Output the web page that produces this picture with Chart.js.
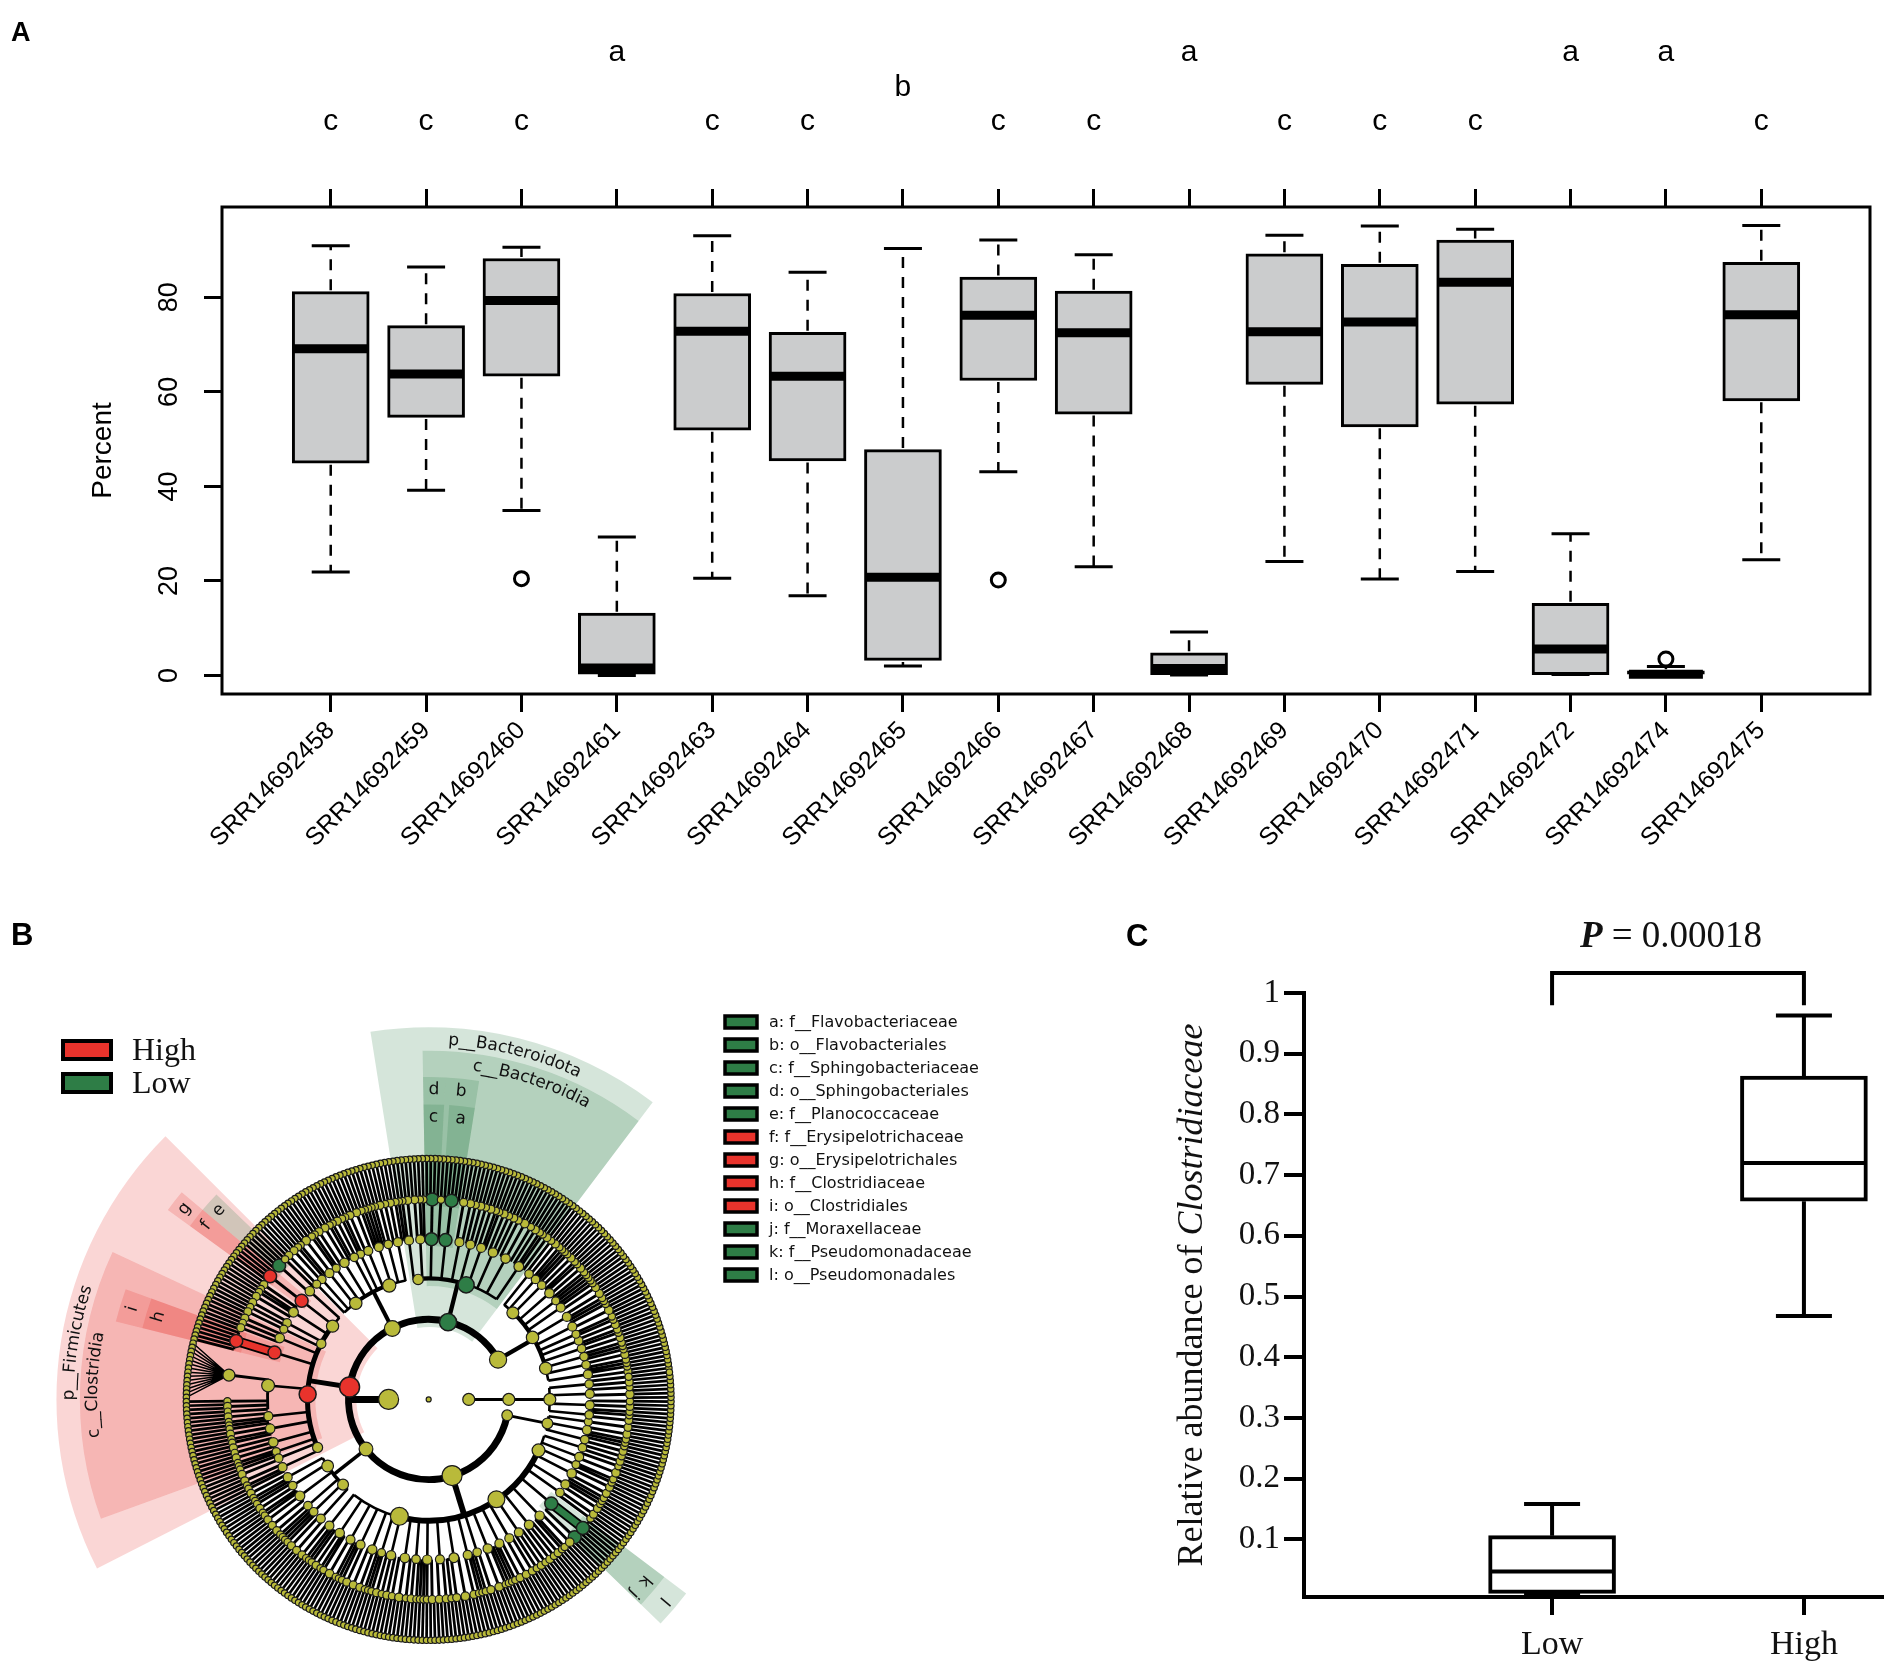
<!DOCTYPE html>
<html>
<head>
<meta charset="utf-8">
<script src="https://cdn.jsdelivr.net/npm/chart.js@4.4.1/dist/chart.umd.min.js"></script>
<style>
  html, body { margin: 0; padding: 0; background: #fff; }
  body { width: 1904px; height: 1679px; position: relative; overflow: hidden; }
  canvas { position: absolute; }
  #chartA { left: 0; top: 0; }
  #chartB { left: 0; top: 880px; }
  #chartC { left: 1100px; top: 900px; }
</style>
</head>
<body>
<canvas id="chartA" width="1904" height="880"></canvas>
<canvas id="chartB" width="1000" height="799"></canvas>
<canvas id="chartC" width="804" height="779"></canvas>
<script>
// ---------- panel A data ----------
const categories = ['SRR14692458', 'SRR14692459', 'SRR14692460', 'SRR14692461', 'SRR14692463', 'SRR14692464',
  'SRR14692465', 'SRR14692466', 'SRR14692467', 'SRR14692468', 'SRR14692469', 'SRR14692470',
  'SRR14692471', 'SRR14692472', 'SRR14692474', 'SRR14692475'];
const whiskerLow  = [21.9, 39.2, 34.9, 0.0, 20.6, 16.9, 2.0, 43.1, 23.0, 0.1, 24.1, 20.4, 22.0, 0.2, 0.0, 24.5];
const q1          = [44.9, 54.6, 63.3, 0.0, 51.9, 45.4, 3.2, 62.4, 55.3, 0.2, 61.6, 52.6, 57.4, 0.2, 0.0, 58.1];
const median      = [69.1, 63.8, 79.3, 1.6, 72.8, 63.3, 20.8, 76.2, 72.5, 1.5, 72.7, 74.8, 83.2, 5.6, 0.3, 76.3];
const q3          = [81.2, 74.0, 88.2, 13.2, 80.8, 72.6, 47.8, 84.3, 81.3, 4.8, 89.2, 87.0, 92.1, 15.3, 1.0, 87.4];
const whiskerHigh = [90.9, 86.4, 90.6, 29.3, 93.0, 85.3, 90.3, 92.1, 89.0, 9.2, 93.1, 95.1, 94.4, 30.0, 1.9, 95.2];
const outlierSample = ['SRR14692460', 'SRR14692466', 'SRR14692474'];
const outlierValue = [20.5, 20.2, 3.5];
const letters = ['c', 'c', 'c', 'a', 'c', 'c', 'b', 'c', 'c', 'a', 'c', 'c', 'c', 'a', 'a', 'c'];
const yTicksA = [0, 20, 40, 60, 80];

// ---------- panel B data ----------
const groupNames = ['High', 'Low'];
const markerKeys = ['a', 'b', 'c', 'd', 'e', 'f', 'g', 'h', 'i', 'j', 'k', 'l'];
const markerTaxa = ['f__Flavobacteriaceae', 'o__Flavobacteriales', 'f__Sphingobacteriaceae', 'o__Sphingobacteriales',
  'f__Planococcaceae', 'f__Erysipelotrichaceae', 'o__Erysipelotrichales', 'f__Clostridiaceae',
  'o__Clostridiales', 'f__Moraxellaceae', 'f__Pseudomonadaceae', 'o__Pseudomonadales'];
const markerGroups = ['Low', 'Low', 'Low', 'Low', 'Low', 'High', 'High', 'High', 'High', 'Low', 'Low', 'Low'];
const cladeNames = ['p__Bacteroidota', 'c__Bacteroidia', 'p__Firmicutes', 'c__Clostridia'];
const cladeGroups = ['Low', 'Low', 'High', 'High'];
const thickLinks = ['h', 'k'];
// tree: phylum -> class -> order -> family (number = genera in that family)
const bacteriaPhyla = [
  [[[2, 1, 1], [1, 2], [1, 1, 1], [2, 1], [1, 2]],
   [[1, 1], [3, 1], [1, 1, 2], [2, 1, 1], [1, 1]],
   [[1, 2, 1, 1], [2, 1], [1, 1, 1], [2, 1]]],
  { id: 'p__Bacteroidota', kids: [
    { id: 'c__Bacteroidia', kids: [[2, 1, 1, 2], [1, 3, 1], [2, 1, 2], [1, 1, 2], [1, 2, 1], [2, 2],
      { id: 'b', kids: [{ id: 'a', n: 5 }, 1] }, { id: 'd', kids: [{ id: 'c', n: 4 }] }] },
    [[1, 1, 2], [2, 1, 1]]
  ] },
  [[[1, 2, 1], [2, 1], [1, 1, 1, 1], [2, 2], [1, 1], [2, 1]],
   [[1, 2, 2], [1, 1], [3, 1], [1, 2], [2]]],
  { id: 'p__Firmicutes', kids: [
    [[1, { id: 'e', n: 4 }], { id: 'g', kids: [{ id: 'f', n: 4 }] }, [2, 1, 1, 2]],
    [[2, 1], [2]],
    { id: 'c__Clostridia', kids: [[2, 1, 2], { id: 'i', kids: [{ id: 'h', n: 6 }] }, [14, 1, 2, 1],
      [2, 1, 1], [1, 2, 1, 1], [2, 1, 2], [1, 1]] },
    [[1, 2], [2, 1, 1]]
  ] },
  [[[2, 1, 1], [1, 2], [1, 1, 2, 2]],
   [[2, 1], [1, 1, 1], [2, 2]]],
  [[[2, 1, 1], [1, 2, 1, 1], [3, 1], [1, 1, 2], [2, 2, 1], [1, 1], [2, 1, 2], [1, 3, 1], [2, 1], [1, 1, 1, 2], [2, 2], [1, 2, 3]],
   [[2, 1, 1], [1, 2], [3, 1, 1], [1, 1, 2], [2, 2], [1, 2, 1], [2, 1, 2], [1, 1, 3],
    { id: 'l', kids: [{ id: 'j', n: 1 }, { id: 'k', n: 6 }] }, [1, 2]],
   [[2, 1, 1], [1, 2, 2], [1, 1], [3, 1], [2, 1]]],
  [[[2, 1], [1, 1, 2], [2]]]
];
const archaeaPhyla = [[[[2, 1], [1, 2, 1], [3, 1], [2, 1]]]];

// ---------- panel C data ----------
const groupsC = ['Low', 'High'];
const cMin = [0.010, 0.468];
const cQ1 = [0.011, 0.657];
const cMed = [0.047, 0.720];
const cQ3 = [0.106, 0.863];
const cMax = [0.158, 0.963];
const yTicksC = [0.1, 0.2, 0.3, 0.4, 0.5, 0.6, 0.7, 0.8, 0.9, 1];
const pValue = '0.00018';

const SANS = 'Liberation Sans, Arial, sans-serif';
const SERIF = 'Liberation Serif, Times New Roman, serif';
const DEJAVU = 'DejaVu Sans, sans-serif';

// ================= PANEL A =================
const letterRowY = { a: 53, b: 88, c: 122 };

const boxPlotA = {
  id: 'boxPlotA',
  afterDatasetsDraw(chart) {
    const { ctx, scales: { x, y } } = chart;
    const half = 38.5;
    ctx.save();
    ctx.strokeStyle = '#000';
    categories.forEach((c, i) => {
      const px = x.getPixelForValue(i + 1);
      const yHi = y.getPixelForValue(whiskerHigh[i]);
      const yLo = y.getPixelForValue(whiskerLow[i]);
      ctx.setLineDash([11, 9]);
      ctx.lineWidth = 2.5;
      ctx.beginPath();
      ctx.moveTo(px, y.getPixelForValue(q3[i]) - 1.5);
      ctx.lineTo(px, yHi);
      ctx.moveTo(px, y.getPixelForValue(q1[i]) + 1.5);
      ctx.lineTo(px, yLo);
      ctx.stroke();
      ctx.setLineDash([]);
      ctx.lineWidth = 3;
      ctx.beginPath();
      ctx.moveTo(px - 19, yHi); ctx.lineTo(px + 19, yHi);
      ctx.moveTo(px - 19, yLo); ctx.lineTo(px + 19, yLo);
      ctx.stroke();
      ctx.lineWidth = 9;
      ctx.beginPath();
      const ym = y.getPixelForValue(median[i]);
      ctx.moveTo(px - half + 1.5, ym); ctx.lineTo(px + half - 1.5, ym);
      ctx.stroke();
    });
    ctx.restore();
  },
  afterDraw(chart) {
    const { ctx, chartArea: a, scales: { x, y } } = chart;
    ctx.save();
    ctx.strokeStyle = '#000';
    ctx.lineWidth = 3;
    ctx.strokeRect(a.left, a.top, a.right - a.left, a.bottom - a.top);
    ctx.fillStyle = '#000';
    ctx.textAlign = 'center';
    ctx.textBaseline = 'middle';
    ctx.font = '30px ' + SANS;
    letters.forEach((l, i) => ctx.fillText(l, x.getPixelForValue(i + 1), letterRowY[l]));
    ctx.font = '27px ' + SANS;
    yTicksA.forEach(v => {
      ctx.save();
      ctx.translate(170, y.getPixelForValue(v));
      ctx.rotate(-Math.PI / 2);
      ctx.fillText(String(v), 0, 0);
      ctx.restore();
    });
    ctx.save();
    ctx.font = '28px ' + SANS;
    ctx.translate(103, (a.top + a.bottom) / 2);
    ctx.rotate(-Math.PI / 2);
    ctx.fillText('Percent', 0, 0);
    ctx.restore();
    ctx.textAlign = 'left';
    ctx.textBaseline = 'alphabetic';
    ctx.font = 'bold 27px ' + SANS;
    ctx.fillText('A', 11, 41);
    ctx.restore();
  }
};

const catTicks = scale => { scale.ticks = categories.map((c, i) => ({ value: i + 1 })); };

new Chart(document.getElementById('chartA'), {
  type: 'bar',
  data: {
    datasets: [{
      type: 'bar',
      data: categories.map((c, i) => ({ x: i + 1, y: [q1[i], q3[i]] })),
      backgroundColor: '#cbcccd',
      borderColor: '#000',
      borderWidth: 3,
      borderSkipped: false,
      barThickness: 77,
      grouped: false
    }, {
      type: 'scatter',
      data: outlierSample.map((s, i) => ({ x: categories.indexOf(s) + 1, y: outlierValue[i] })),
      pointStyle: 'circle',
      pointRadius: 7,
      pointBorderWidth: 3,
      pointBorderColor: '#000',
      pointBackgroundColor: 'rgba(0,0,0,0)'
    }]
  },
  options: {
    responsive: false,
    animation: false,
    devicePixelRatio: 1,
    layout: { padding: { left: 0, right: 34, top: 0, bottom: 0 } },
    plugins: { legend: { display: false }, tooltip: { enabled: false } },
    scales: {
      x: {
        type: 'linear', position: 'bottom', min: -0.14, max: 17.14, offset: false,
        afterBuildTicks: catTicks,
        afterFit: s => { s.height = 186; },
        ticks: {
          autoSkip: false, minRotation: 45, maxRotation: 45, padding: 4, color: '#000',
          font: { family: SANS, size: 25 },
          callback: v => categories[v - 1]
        },
        grid: { offset: false, drawOnChartArea: false, tickLength: 18, color: '#000', lineWidth: 3 },
        border: { display: false }
      },
      xTop: {
        type: 'linear', position: 'top', min: -0.14, max: 17.14, offset: false,
        afterBuildTicks: catTicks,
        afterFit: s => { s.height = 207; },
        ticks: { display: false },
        grid: { offset: false, drawOnChartArea: false, tickLength: 18, color: '#000', lineWidth: 3 },
        border: { display: false }
      },
      y: {
        min: -3.9, max: 99.1,
        afterBuildTicks: s => { s.ticks = yTicksA.map(v => ({ value: v })); },
        afterFit: s => { s.width = 222; },
        ticks: { display: false },
        grid: { drawOnChartArea: false, tickLength: 18, color: '#000', lineWidth: 3 },
        border: { display: false }
      }
    }
  },
  plugins: [boxPlotA]
});

// ================= PANEL B =================
const levelR = [0, 41, 82, 124, 165, 206, 248];
const outerR = { 2: 381, 3: 357, 4: 330, 5: 302 };
const startAngle = 7;
const step = 1;
const groupColor = { High: '#e8332c', Low: '#2e7d46' };
const groupShade = { High: 'rgba(232,51,44,0.2)', Low: 'rgba(46,125,70,0.2)' };

function groupOf(id) {
  if (id == null) return null;
  const m = markerKeys.indexOf(id);
  if (m >= 0) return markerGroups[m];
  const c = cladeNames.indexOf(id);
  return c >= 0 ? cladeGroups[c] : null;
}

const nodes = [];
let leafCount = 0;
function visit(item, level, parent) {
  let id = null, kids = null, n = null;
  if (typeof item === 'number') n = item;
  else if (Array.isArray(item)) kids = item;
  else { id = item.id; kids = item.kids || null; n = item.n != null ? item.n : null; }
  const node = { level, id, parent, children: [] };
  nodes.push(node);
  if (kids) {
    kids.forEach(k => node.children.push(visit(k, level + 1, node)));
  } else {
    for (let g = 0; g < n; g++) {
      const leaf = { level: level + 1, id: null, parent: node, children: [], first: leafCount, last: leafCount, leaves: 1,
        angle: startAngle + (leafCount + 0.5) * step };
      leafCount++;
      nodes.push(leaf);
      node.children.push(leaf);
    }
  }
  node.first = node.children[0].first;
  node.last = node.children[node.children.length - 1].last;
  node.leaves = node.last - node.first + 1;
  node.angle = startAngle + (node.first + node.last + 1) / 2 * step;
  return node;
}
const root = visit([{ id: 'k__Bacteria', kids: bacteriaPhyla }, { id: 'k__Archaea', kids: archaeaPhyla }], 0, null);
root.angle = 0;

const pol = (r, deg) => ({ x: r * Math.cos(deg * Math.PI / 180), y: r * Math.sin(deg * Math.PI / 180) });
const nodeRadius = n => {
  if (n.level === 0) return 2.5;
  if (n.level === 6) return 3.2;
  let r = Math.min(10, 2.8 + 0.85 * Math.sqrt(n.leaves));
  if (groupOf(n.id)) r = Math.max(r, 6.5);
  return r;
};

function nodeSet(filter) {
  const list = nodes.filter(filter).sort((a, b) => b.level - a.level);
  return {
    data: list.map(n => pol(levelR[n.level], n.angle)),
    radius: list.map(nodeRadius)
  };
}
const yellowSet = nodeSet(n => !groupOf(n.id));
const redSet = nodeSet(n => groupOf(n.id) === 'High');
const greenSet = nodeSet(n => groupOf(n.id) === 'Low');

function arcText(ctx, cx, cy, text, r, midDeg) {
  const total = ctx.measureText(text).width;
  let a = midDeg * Math.PI / 180 + total / (2 * r);
  for (const ch of text) {
    const w = ctx.measureText(ch).width;
    const ac = a - w / (2 * r);
    ctx.save();
    ctx.translate(cx + r * Math.cos(ac), cy - r * Math.sin(ac));
    ctx.rotate(Math.PI / 2 - ac);
    ctx.fillText(ch, 0, 0);
    ctx.restore();
    a -= w / r;
  }
}

const cladogram = {
  id: 'cladogram',
  beforeDatasetsDraw(chart) {
    const { ctx, scales: { x, y } } = chart;
    const cx = x.getPixelForValue(0), cy = y.getPixelForValue(0);
    const k = x.getPixelForValue(1) - cx;
    const P = (r, deg) => { const p = pol(r, deg); return [x.getPixelForValue(p.x), y.getPixelForValue(p.y)]; };
    const rad = d => -d * Math.PI / 180;
    ctx.save();
    // highlighted clade sectors
    nodes.filter(n => groupOf(n.id)).sort((a, b) => a.level - b.level).forEach(n => {
      const a0 = startAngle + n.first * step, a1 = startAngle + (n.last + 1) * step;
      const rIn = (levelR[n.level] - 8) * k, rOut = outerR[n.level] * k;
      ctx.fillStyle = groupShade[groupOf(n.id)];
      ctx.beginPath();
      ctx.arc(cx, cy, rOut, rad(a0), rad(a1), true);
      ctx.arc(cx, cy, rIn, rad(a1), rad(a0), false);
      ctx.closePath();
      ctx.fill();
    });
    // tree edges
    ctx.strokeStyle = '#000';
    ctx.lineCap = 'butt';
    const spokeWidth = { 3: 2.6, 4: 2.9, 5: 2.7 };
    nodes.forEach(n => {
      if (n.level < 1 || !n.children.length) return;
      const rp = levelR[n.level], rc = levelR[n.level + 1];
      const f = n.children[0].angle, l = n.children[n.children.length - 1].angle;
      if (n.level >= 4 && n.children.length >= 8) {
        // wide family: fan of branches from the node
        ctx.lineWidth = 1.5;
        const [x0, y0] = P(rp, n.angle);
        ctx.beginPath();
        n.children.forEach(g => { const [x1, y1] = P(rc, g.angle); ctx.moveTo(x0, y0); ctx.lineTo(x1, y1); });
        ctx.stroke();
      } else if (n.level >= 3) {
        // arc on the parent ring, one spoke per child
        ctx.lineWidth = spokeWidth[n.level];
        ctx.beginPath();
        ctx.arc(cx, cy, rp * k, rad(f), rad(l), true);
        ctx.stroke();
        ctx.beginPath();
        n.children.forEach(c => {
          const [x0, y0] = P(rp, c.angle), [x1, y1] = P(rc, c.angle);
          ctx.moveTo(x0, y0); ctx.lineTo(x1, y1);
        });
        ctx.stroke();
      } else {
        // arc on the child ring, one spoke from the parent
        ctx.lineWidth = Math.min(7, 1.6 + 0.4 * Math.sqrt(n.leaves));
        ctx.beginPath();
        ctx.arc(cx, cy, rc * k, rad(f), rad(l), true);
        ctx.stroke();
        const [x0, y0] = P(rp, n.angle), [x1, y1] = P(rc, n.angle);
        ctx.beginPath();
        ctx.moveTo(x0, y0); ctx.lineTo(x1, y1);
        ctx.stroke();
      }
    });
    // thick coloured links between nested biomarkers
    nodes.filter(n => thickLinks.includes(n.id)).forEach(n => {
      const [x0, y0] = P(levelR[n.parent.level], n.parent.angle), [x1, y1] = P(levelR[n.level], n.angle);
      ctx.beginPath(); ctx.moveTo(x0, y0); ctx.lineTo(x1, y1);
      ctx.lineWidth = 10; ctx.strokeStyle = '#000'; ctx.stroke();
      ctx.lineWidth = 6.5; ctx.strokeStyle = groupColor[groupOf(n.id)]; ctx.stroke();
    });
    ctx.restore();
  },
  afterDraw(chart) {
    const { ctx, scales: { x, y } } = chart;
    const cx = x.getPixelForValue(0), cy = y.getPixelForValue(0);
    const k = x.getPixelForValue(1) - cx;
    ctx.save();
    ctx.fillStyle = '#111';
    ctx.textAlign = 'center';
    ctx.textBaseline = 'middle';
    ctx.font = '17px ' + DEJAVU;
    nodes.filter(n => groupOf(n.id)).forEach(n => {
      const rl = (outerR[n.level] - 13) * k;
      if (n.level <= 3) {
        arcText(ctx, cx, cy, n.id, rl, n.angle);
      } else {
        const a = n.angle * Math.PI / 180;
        ctx.save();
        ctx.translate(cx + rl * Math.cos(a), cy - rl * Math.sin(a));
        ctx.rotate(Math.PI / 2 - a);
        ctx.fillText(n.id, 0, 0);
        ctx.restore();
      }
    });
    // High / Low legend
    ctx.textAlign = 'left';
    ctx.textBaseline = 'alphabetic';
    ctx.font = '32px ' + SERIF;
    groupNames.forEach((g, i) => {
      const top = 161 + i * 33;
      ctx.fillStyle = groupColor[g];
      ctx.fillRect(63, top, 48, 18);
      ctx.lineWidth = 4; ctx.strokeStyle = '#000';
      ctx.strokeRect(63, top, 48, 18);
      ctx.fillStyle = '#111';
      ctx.fillText(g, 132, top + 19);
    });
    // biomarker legend
    ctx.font = '16px ' + DEJAVU;
    ctx.textBaseline = 'middle';
    markerKeys.forEach((m, i) => {
      const cyRow = 142 + i * 23;
      ctx.fillStyle = groupColor[markerGroups[i]];
      ctx.fillRect(725, cyRow - 6, 32, 12);
      ctx.lineWidth = 3.5; ctx.strokeStyle = '#000';
      ctx.strokeRect(725, cyRow - 6, 32, 12);
      ctx.fillStyle = '#111';
      ctx.fillText(m + ': ' + markerTaxa[i], 769, cyRow + 1);
    });
    ctx.fillStyle = '#000';
    ctx.textBaseline = 'alphabetic';
    ctx.font = 'bold 31px ' + SANS;
    ctx.fillText('B', 11, 65);
    ctx.restore();
  }
};

const pointSet = (set, color, bw) => ({
  data: set.data,
  pointRadius: set.radius,
  pointBackgroundColor: color,
  pointBorderColor: '#1a1a1a',
  pointBorderWidth: bw,
  pointHoverRadius: set.radius
});

new Chart(document.getElementById('chartB'), {
  type: 'scatter',
  data: {
    datasets: [
      pointSet(yellowSet, '#b9ba3a', 1.2),
      pointSet(redSet, groupColor.High, 1.5),
      pointSet(greenSet, groupColor.Low, 1.5)
    ]
  },
  options: {
    responsive: false,
    animation: false,
    devicePixelRatio: 1,
    layout: { padding: 0 },
    plugins: { legend: { display: false }, tooltip: { enabled: false } },
    scales: {
      x: { type: 'linear', min: -427, max: 573, display: false },
      y: { type: 'linear', min: -276, max: 523, display: false }
    }
  },
  plugins: [cladogram]
});

// ================= PANEL C =================
const boxPlotC = {
  id: 'boxPlotC',
  afterDatasetsDraw(chart) {
    const { ctx, scales: { x, y } } = chart;
    const half = 63.5;
    ctx.save();
    ctx.strokeStyle = '#000';
    ctx.lineWidth = 4;
    groupsC.forEach((g, i) => {
      const px = x.getPixelForValue(i + 1);
      const yHi = y.getPixelForValue(cMax[i]), yLo = y.getPixelForValue(cMin[i]);
      ctx.beginPath();
      ctx.moveTo(px, y.getPixelForValue(cQ3[i])); ctx.lineTo(px, yHi);
      ctx.moveTo(px, y.getPixelForValue(cQ1[i])); ctx.lineTo(px, yLo);
      ctx.moveTo(px - 28, yHi); ctx.lineTo(px + 28, yHi);
      ctx.moveTo(px - 28, yLo); ctx.lineTo(px + 28, yLo);
      const ym = y.getPixelForValue(cMed[i]);
      ctx.moveTo(px - half + 2, ym); ctx.lineTo(px + half - 2, ym);
      ctx.stroke();
    });
    ctx.restore();
  },
  afterDraw(chart) {
    const { ctx, chartArea: a, scales: { x, y } } = chart;
    ctx.save();
    // significance bracket
    const xL = x.getPixelForValue(1), xH = x.getPixelForValue(2);
    const yTop = y.getPixelForValue(1.033), yEnd = y.getPixelForValue(0.98);
    ctx.strokeStyle = '#000';
    ctx.lineWidth = 4;
    ctx.beginPath();
    ctx.moveTo(xL, yEnd); ctx.lineTo(xL, yTop); ctx.lineTo(xH, yTop); ctx.lineTo(xH, yEnd);
    ctx.stroke();
    // P value
    ctx.fillStyle = '#111';
    ctx.textBaseline = 'alphabetic';
    ctx.textAlign = 'left';
    const pBold = 'bold italic 37px ' + SERIF, pReg = '37px ' + SERIF;
    const rest = ' = ' + pValue;
    ctx.font = pBold; const w1 = ctx.measureText('P').width;
    ctx.font = pReg; const w2 = ctx.measureText(rest).width;
    const x0 = 571 - (w1 + w2) / 2;
    ctx.font = pBold; ctx.fillText('P', x0, 47);
    ctx.font = pReg; ctx.fillText(rest, x0 + w1, 47);
    // y title
    ctx.save();
    ctx.translate(102, (a.top + a.bottom) / 2);
    ctx.rotate(-Math.PI / 2);
    const t1 = 'Relative abundance of ', t2 = 'Clostridiaceae';
    ctx.font = '36px ' + SERIF; const tw1 = ctx.measureText(t1).width;
    ctx.font = 'italic 36px ' + SERIF; const tw2 = ctx.measureText(t2).width;
    const s = -(tw1 + tw2) / 2;
    ctx.font = '36px ' + SERIF; ctx.fillText(t1, s, 0);
    ctx.font = 'italic 36px ' + SERIF; ctx.fillText(t2, s + tw1, 0);
    ctx.restore();
    ctx.fillStyle = '#000';
    ctx.font = 'bold 31px ' + SANS;
    ctx.fillText('C', 26, 46);
    ctx.restore();
  }
};

new Chart(document.getElementById('chartC'), {
  type: 'bar',
  data: {
    datasets: [{
      data: groupsC.map((g, i) => ({ x: i + 1, y: [cQ1[i], cQ3[i]] })),
      backgroundColor: '#fff',
      borderColor: '#000',
      borderWidth: 4,
      borderSkipped: false,
      barThickness: 127
    }]
  },
  options: {
    responsive: false,
    animation: false,
    devicePixelRatio: 1,
    layout: { padding: { top: 93, right: 22, left: 0, bottom: 0 } },
    plugins: { legend: { display: false }, tooltip: { enabled: false } },
    scales: {
      x: {
        type: 'linear', min: 0.015, max: 2.31, offset: false,
        afterBuildTicks: s => { s.ticks = groupsC.map((g, i) => ({ value: i + 1 })); },
        afterFit: s => { s.height = 82; },
        ticks: { color: '#111', padding: 10, font: { family: SERIF, size: 34 }, callback: v => groupsC[v - 1] },
        grid: { offset: false, drawOnChartArea: false, tickLength: 18, color: '#000', lineWidth: 4 },
        border: { display: true, color: '#000', width: 4 }
      },
      y: {
        min: 0.005, max: 1,
        afterBuildTicks: s => { s.ticks = yTicksC.map(v => ({ value: v })); },
        afterFit: s => { s.width = 204; },
        ticks: { color: '#111', padding: 4, font: { family: SERIF, size: 33 }, callback: v => (v === 1 ? '1' : v.toFixed(1)) },
        grid: { drawOnChartArea: false, tickLength: 20, color: '#000', lineWidth: 4 },
        border: { display: true, color: '#000', width: 4 }
      }
    }
  },
  plugins: [boxPlotC]
});
</script>
</body>
</html>
